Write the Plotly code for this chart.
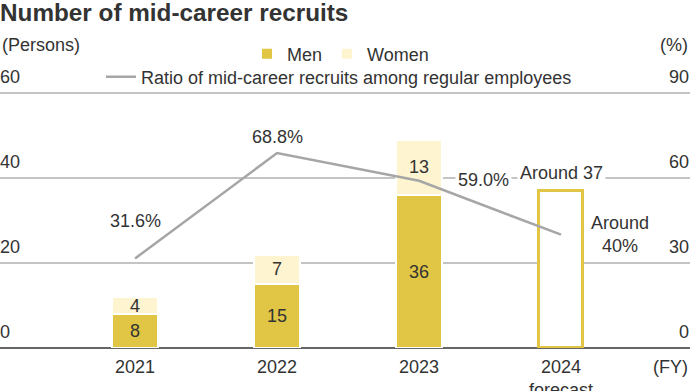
import plotly.graph_objects as go

years = ["2021", "2022", "2023", "2024"]
tick_text = ["2021", "2022", "2023", "2024<br>forecast"]
men = [8, 15, 36, None]
women = [4, 7, 13, None]
forecast = [None, None, None, 37]
ratio = [31.6, 68.8, 59.0, 40]
ratio_labels = ["31.6%", "68.8%", "59.0%", "Around<br>40%"]

MEN_C = "#E1C645"
WOMEN_C = "#FFF4D0"
LINE_C = "#A6A6A6"
TEXT_C = "#333333"
FONT = "Liberation Sans, Arial, sans-serif"
FS = 18

fig = go.Figure()
bw = 0.33
fig.add_trace(go.Bar(
    x=years, y=men, name="Men", marker=dict(color=MEN_C, line=dict(color="white", width=2)),
    width=bw, legend="legend", hoverinfo="skip"))
fig.add_trace(go.Bar(
    x=years, y=women, name="Women", marker=dict(color=WOMEN_C, line=dict(color="white", width=2)),
    width=bw, legend="legend", hoverinfo="skip"))
fig.add_trace(go.Bar(
    x=years, y=forecast, name="Forecast", showlegend=False,
    marker=dict(color="white", line=dict(color=MEN_C, width=3)),
    width=bw - 0.02, hoverinfo="skip"))
fig.add_trace(go.Scatter(
    x=years, y=ratio, yaxis="y2", mode="lines", name="Ratio of mid-career recruits among regular employees",
    line=dict(color=LINE_C, width=2.5), legend="legend2", hoverinfo="skip"))

# bar value labels
for i in range(len(years)):
    if men[i] is not None:
        fig.add_annotation(x=i, y=men[i] / 2, xref="x", yref="y", text=str(men[i]), showarrow=False,
                           font=dict(size=FS, color=TEXT_C))
    if women[i] is not None:
        fig.add_annotation(x=i, y=men[i] + women[i] / 2, xref="x", yref="y", text=str(women[i]),
                           showarrow=False, font=dict(size=FS, color=TEXT_C))

# line labels
shifts = [(0, 37), (0, 16), (64, 1), (59, 0)]
for i, (lab, (dx, dy)) in enumerate(zip(ratio_labels, shifts)):
    fig.add_annotation(x=i, y=ratio[i], xref="x", yref="y2", text=lab, showarrow=False,
                       xshift=dx, yshift=dy, font=dict(size=FS, color=TEXT_C),
                       bgcolor="white" if i == 2 else "rgba(0,0,0,0)", borderpad=2,
                       align="center")
fig.add_annotation(x=3, y=forecast[3], xref="x", yref="y", text=f"Around {forecast[3]}",
                   showarrow=False, yshift=18, font=dict(size=FS, color=TEXT_C), bgcolor="white",
                   borderpad=2)

H = 391
T, B = 62, 43
ph = H - T - B
ymax = ph / 4.25


def py(p):
    return 1 + (T - p) / ph


# axis titles / text
fig.add_annotation(x=0, y=py(45), xref="paper", yref="paper", text="(Persons)", showarrow=False,
                   xanchor="left", yanchor="middle", font=dict(size=FS, color=TEXT_C))
fig.add_annotation(x=1, y=py(45), xref="paper", yref="paper", text="(%)", showarrow=False,
                   xanchor="right", yanchor="middle", font=dict(size=FS, color=TEXT_C))
fig.add_annotation(x=1, y=py(367), xref="paper", yref="paper", text="(FY)", showarrow=False,
                   xanchor="right", yanchor="middle", font=dict(size=FS, color=TEXT_C))

fig.update_layout(
    width=690, height=391,
    margin=dict(l=0, r=0, t=T, b=B, autoexpand=False),
    paper_bgcolor="white", plot_bgcolor="white",
    barmode="stack", bargap=0,
    font=dict(family=FONT, size=FS, color=TEXT_C),
    title=dict(text="<b>Number of mid-career recruits</b>", x=0, xanchor="left", y=1 - 12 / H,
               yanchor="middle", font=dict(size=24.3, color=TEXT_C)),
    xaxis=dict(type="category", range=[-0.951, 3.908], tickvals=years, ticktext=tick_text,
               showgrid=False, ticks="", showline=False, zeroline=False, automargin=False,
               tickfont=dict(size=FS, color=TEXT_C), ticklabelstandoff=6),
    yaxis=dict(range=[0, ymax], tickvals=[0, 20, 40, 60], showgrid=True, gridcolor="#C4C4C4",
               gridwidth=1.5, zeroline=True, zerolinecolor="#666666", zerolinewidth=1.5,
               ticklabelposition="inside top", side="left", showline=False, ticks="",
               ticklabelstandoff=-3, ticklabelshift=-4,
               automargin=False, tickfont=dict(size=FS, color=TEXT_C)),
    yaxis2=dict(range=[0, ymax * 1.5], tickvals=[0, 30, 60, 90], overlaying="y", side="right",
                showgrid=False, zeroline=False, ticklabelposition="inside top", showline=False,
                ticks="", automargin=False, ticklabelstandoff=-2, ticklabelshift=-4,
                tickfont=dict(size=FS, color=TEXT_C)),
    legend=dict(orientation="h", x=247 / 690, y=py(54), xanchor="left", yanchor="middle",
                font=dict(size=FS, color=TEXT_C), bgcolor="rgba(0,0,0,0)", traceorder="normal",
                itemwidth=30),
    legend2=dict(orientation="h", x=101 / 690, y=py(77), xanchor="left", yanchor="middle",
                 font=dict(size=FS, color=TEXT_C), bgcolor="rgba(0,0,0,0)", itemwidth=30),
    showlegend=True,
)

fig.write_html("out.html", config={"displayModeBar": False},
               post_script="document.body.style.margin='0';")
